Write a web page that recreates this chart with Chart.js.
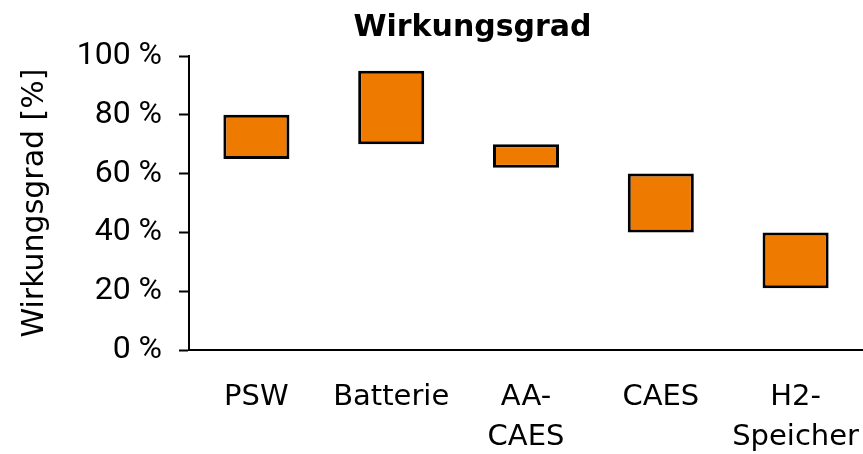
<!DOCTYPE html>
<html>
<head>
<meta charset="utf-8">
<script src="https://cdn.jsdelivr.net/npm/chart.js@4"></script>
<style>
  html, body { margin: 0; padding: 0; background: #fff; }
  #wrap { width: 863px; height: 454px; }
</style>
</head>
<body>
<div id="wrap"><canvas id="barChart"></canvas></div>
<script>
// Wirkungsgrad von Speichertechnologien (Bereich min..max in %)
const categories = ['PSW', 'Batterie', ['AA-', 'CAES'], 'CAES', ['H2-', 'Speicher']];
const minValues = [65, 70, 62, 40, 21];
const maxValues = [80, 95, 70, 60, 40];
const yTicks = [0, 20, 40, 60, 80, 100];

const ranges = minValues.map((v, i) => [v, maxValues[i]]);

// title sits a bit right of the canvas centre in the original
const titleShift = {
    id: 'titleShift',
    afterLayout(chart) {
        const t = chart.titleBlock;
        if (t) {
            t.left += 41;
            t.right += 41;
        }
    }
};

const canvas = document.getElementById('barChart');
const chartInstance = new Chart(canvas, {
    type: 'bar',
    data: {
        labels: categories,
        datasets: [{
            data: ranges,
            backgroundColor: '#EE7A00',
            borderColor: '#000000',
            borderWidth: 3,
            borderSkipped: false,
            categoryPercentage: 1,
            barPercentage: 0.49
        }]
    },
    plugins: [titleShift],
    options: {
        responsive: true,
        maintainAspectRatio: false,
        animation: false,
        layout: {
            padding: { top: 2, left: 0, right: 0, bottom: 0 }
        },
        plugins: {
            legend: { display: false },
            tooltip: { enabled: false },
            title: {
                display: true,
                text: 'Wirkungsgrad',
                color: '#000',
                font: { family: 'DejaVu Sans', size: 30, weight: 'bold', lineHeight: 1.2 },
                padding: { top: 8, bottom: 10 }
            }
        },
        scales: {
            x: {
                grid: { display: false, drawTicks: false },
                border: { display: true, color: '#000', width: 2 },
                ticks: {
                    color: '#000',
                    padding: 27,
                    maxRotation: 0,
                    autoSkip: false,
                    font: { family: 'DejaVu Sans', size: 29, lineHeight: 1.38 }
                },
                afterFit: function(scale) {
                    scale.height = 104;
                    scale.paddingLeft = 0;
                    scale.paddingRight = 0;
                }
            },
            y: {
                min: 0,
                max: 100,
                afterBuildTicks: function(scale) {
                    scale.ticks = yTicks.map(v => ({ value: v }));
                },
                grid: {
                    drawOnChartArea: false,
                    drawTicks: true,
                    tickLength: 10,
                    tickWidth: 2,
                    tickColor: '#000'
                },
                border: { display: true, color: '#000', width: 2 },
                ticks: {
                    color: '#000',
                    padding: 17,
                    font: { family: 'Roboto', size: 32 },
                    callback: function(value) {
                        return value + ' %';
                    }
                },
                title: {
                    display: true,
                    text: 'Wirkungsgrad [%]',
                    color: '#000',
                    font: { family: 'DejaVu Sans', size: 30, lineHeight: 1.2 },
                    padding: { top: 17, bottom: 0 }
                },
                afterFit: function(scale) {
                    scale.width = 189;
                    scale.paddingTop = 0;
                    scale.paddingBottom = 0;
                }
            }
        }
    }
});
</script>
</body>
</html>
